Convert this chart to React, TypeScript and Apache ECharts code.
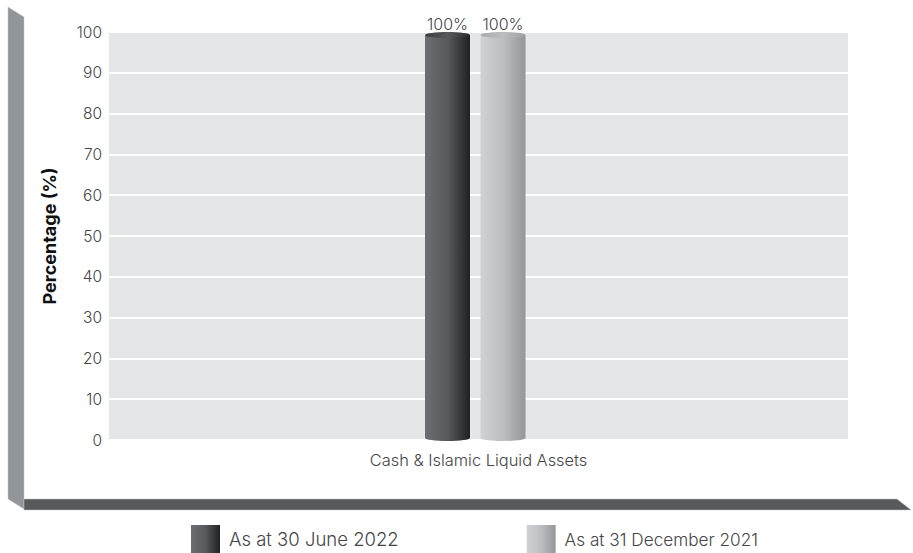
import React, { useEffect, useRef } from "react";
import * as echarts from "echarts";

const categories = ["Cash & Islamic Liquid Assets"];
const june2022 = [100];
const december2021 = [100];
const seriesNames = ["As at 30 June 2022", "As at 31 December 2021"];
const yTicks = { min: 0, max: 100, interval: 10 };

const FONT = "Inter, 'Open Sans', sans-serif";
const TEXT = "#444648";

const darkBody = new echarts.graphic.LinearGradient(0, 0, 1, 0, [
  { offset: 0, color: "#6d6e71" },
  { offset: 0.5, color: "#58595b" },
  { offset: 1, color: "#1f2021" },
]);
const lightBody = new echarts.graphic.LinearGradient(0, 0, 1, 0, [
  { offset: 0, color: "#d1d2d4" },
  { offset: 0.5, color: "#bcbec0" },
  { offset: 1, color: "#939598" },
]);
const darkCap = new echarts.graphic.LinearGradient(0, 0, 1, 0, [
  { offset: 0, color: "#3a3b3c" },
  { offset: 0.5, color: "#58595b" },
  { offset: 1, color: "#2c2d2e" },
]);
const lightCap = new echarts.graphic.LinearGradient(0, 0, 1, 0, [
  { offset: 0, color: "#a7a9ac" },
  { offset: 0.5, color: "#bcbec0" },
  { offset: 1, color: "#a0a2a5" },
]);

// Cylinder drawn from a value: a body with an elliptical base and top cap.
const cylinder =
  (offset: number, body: any, cap: any) => (_params: any, api: any) => {
    const value = api.value(1);
    const top = api.coord([api.value(0), value]);
    const base = api.coord([api.value(0), 0]);
    const width = 45;
    const x = top[0] + offset - width / 2;
    const capH = 3;
    return {
      type: "group",
      silent: true,
      children: [
        {
          type: "ellipse",
          shape: { cx: x + width / 2, cy: base[1] - 2, rx: width / 2, ry: capH },
          style: { fill: body },
        },
        {
          type: "rect",
          shape: { x, y: top[1] + capH, width, height: base[1] - top[1] - capH - 2 },
          style: { fill: body },
        },
        {
          type: "ellipse",
          shape: { cx: x + width / 2, cy: top[1] + capH, rx: width / 2, ry: capH },
          style: { fill: cap },
        },
        {
          type: "text",
          x: x + width / 2,
          y: top[1] - 8,
          style: {
            text: `${value}%`,
            fontFamily: FONT,
            fontWeight: 300,
            fontSize: 16,
            fill: TEXT,
            align: "center",
            verticalAlign: "middle",
          },
        },
      ],
    };
  };

const toPairs = (values: number[]) => values.map((v, i) => [i, v]);

export default function App() {
  const ref = useRef<HTMLDivElement>(null);

  useEffect(() => {
    document.body.style.margin = "0";
    const chart = echarts.init(ref.current!, null, { renderer: "svg" });
    chart.setOption({
      animation: false,
      backgroundColor: "#ffffff",
      grid: {
        left: 109,
        right: 65,
        top: 32,
        height: 408,
        show: true,
        backgroundColor: "#e5e6e8",
        borderWidth: 0,
      },
      xAxis: {
        type: "category",
        data: categories,
        axisLine: { show: false },
        axisTick: { show: false },
        axisLabel: { color: TEXT, fontFamily: FONT, fontWeight: 300, fontSize: 16.4, margin: 12 },
      },
      yAxis: {
        type: "value",
        min: yTicks.min,
        max: yTicks.max,
        interval: yTicks.interval,
        name: "Percentage (%)",
        nameLocation: "middle",
        nameGap: 51,
        nameTextStyle: {
          color: "#111111",
          fontFamily: FONT,
          fontWeight: "bold",
          fontSize: 18,
        },
        axisLine: { show: false },
        axisTick: { show: false },
        axisLabel: { color: TEXT, fontFamily: FONT, fontWeight: 300, fontSize: 15.5, margin: 7 },
        splitLine: { lineStyle: { color: "#ffffff", width: 2 } },
      },
      legend: {
        left: 191,
        top: 525,
        icon: "rect",
        itemWidth: 29,
        itemHeight: 28,
        itemGap: 128,
        padding: 0,
        selectedMode: false,
        data: [
          { name: seriesNames[0] },
          { name: seriesNames[1], textStyle: { fontSize: 17.2 } },
        ],
        textStyle: { color: TEXT, fontFamily: FONT, fontWeight: 300, fontSize: 18.5, padding: [0, 0, 2, 4] },
      },
      graphic: [
        {
          type: "polygon",
          silent: true,
          shape: { points: [[8, 7], [24, 17], [24, 509], [8, 499]] },
          style: { fill: "#939598", stroke: "#c4c5c7", lineWidth: 0.5 },
        },
        {
          type: "polygon",
          silent: true,
          shape: { points: [[24, 499], [897, 499], [911, 510], [24, 510]] },
          style: { fill: "#58595b", stroke: "#c4c5c7", lineWidth: 0.5 },
        },
      ],
      series: [
        {
          type: "custom",
          name: seriesNames[0],
          coordinateSystem: "cartesian2d",
          data: toPairs(june2022),
          itemStyle: { color: darkBody },
          renderItem: cylinder(-31, darkBody, darkCap),
        },
        {
          type: "custom",
          name: seriesNames[1],
          coordinateSystem: "cartesian2d",
          data: toPairs(december2021),
          itemStyle: { color: lightBody },
          renderItem: cylinder(24.5, lightBody, lightCap),
        },
      ],
    });
    return () => chart.dispose();
  }, []);

  return <div ref={ref} style={{ width: 913, height: 553 }} />;
}
